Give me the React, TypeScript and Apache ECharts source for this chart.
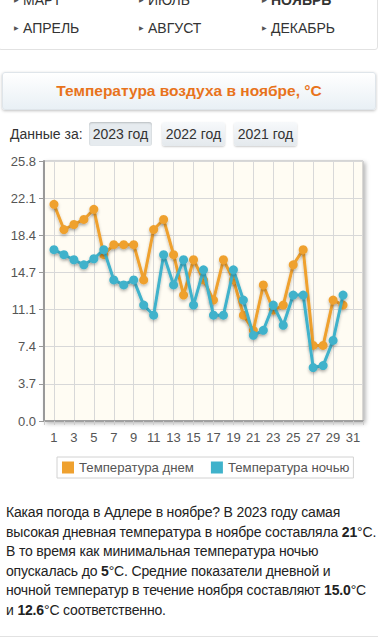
import React, { useEffect, useRef } from "react";
import * as echarts from "echarts";

const dayCategories = ["0","1","2","3","4","5","6","7","8","9","10","11","12","13","14","15","16","17","18","19","20","21","22","23","24","25","26","27","28","29","30","31","32"];
const days = [1,2,3,4,5,6,7,8,9,10,11,12,13,14,15,16,17,18,19,20,21,22,23,24,25,26,27,28,29,30];
const dayTemps = [21.5,19.0,19.5,20.0,21.0,16.5,17.5,17.5,17.5,14.0,19.0,20.0,16.5,12.5,16.0,14.0,12.0,16.0,14.0,10.5,9.0,13.5,11.0,11.5,15.5,17.0,7.5,7.5,12.0,11.5];
const nightTemps = [17.0,16.5,16.0,15.5,16.1,17.0,14.0,13.5,14.0,11.5,10.5,16.5,13.5,16.0,11.5,15.0,10.5,10.5,15.0,12.0,8.5,9.0,11.5,9.5,12.5,12.5,5.3,5.5,8.0,12.5];
const yMax = 25.8;
const ySteps = 7;
const seriesNames = ["Температура днем", "Температура ночью"];
const menuRow1 = ["МАРТ", "ИЮЛЬ", "НОЯБРЬ"];
const menuRow2 = ["АПРЕЛЬ", "АВГУСТ", "ДЕКАБРЬ"];
const years = ["2023 год", "2022 год", "2021 год"];

const ORANGE = "#efa12f";
const BLUE = "#3fb2cb";
const FONT = "'Liberation Sans', Arial, sans-serif";

function Chart() {
  const ref = useRef<HTMLDivElement>(null);
  useEffect(() => {
    if (!ref.current) return;
    const chart = echarts.init(ref.current, undefined, { renderer: "svg" });
    const interval = yMax / ySteps;
    const odd = (i: number) => i % 2 === 1;
    const lineShadow = { shadowColor: "rgba(0,0,0,0.25)", shadowBlur: 3, shadowOffsetY: 2 };
    chart.setOption({
      animation: false,
      textStyle: { fontFamily: FONT },
      grid: {
        left: 44, top: 11, width: 319, height: 260,
        show: true, backgroundColor: "#fffcf3", borderColor: "#b5b5b5", borderWidth: 1,
        shadowColor: "rgba(0,0,0,0.3)", shadowBlur: 4, shadowOffsetX: 2, shadowOffsetY: 2,
      },
      legend: {
        left: 57, top: 307,
        data: seriesNames,
        icon: "rect", itemWidth: 12, itemHeight: 12, itemGap: 17,
        padding: [4, 4, 4, 5],
        borderColor: "#d2d2d2", borderWidth: 1, backgroundColor: "#fff",
        textStyle: { fontSize: 13.2, color: "#555", fontFamily: FONT },
      },
      xAxis: {
        type: "category",
        data: dayCategories,
        boundaryGap: false,
        axisLine: { lineStyle: { color: "#a0a0a0", width: 2 } },
        axisTick: { show: true, interval: 0, length: 4, lineStyle: { color: "#ccc" } },
        axisLabel: { interval: (i: number) => odd(i), color: "#555", fontSize: 13, margin: 10, fontFamily: FONT },
        splitLine: { show: true, interval: (i: number) => odd(i), lineStyle: { color: "#d8d8d8", width: 1 } },
      },
      yAxis: {
        type: "value",
        min: 0,
        max: interval * ySteps,
        interval,
        axisLine: { show: true, lineStyle: { color: "#999", width: 2 } },
        axisTick: { show: true, length: 5, lineStyle: { color: "#999" } },
        axisLabel: { formatter: (v: number) => v.toFixed(1), color: "#555", fontSize: 13, margin: 8, fontFamily: FONT },
        splitLine: { show: true, lineStyle: { color: "#d8d8d8", width: 1 } },
      },
      series: [
        {
          name: seriesNames[0], type: "line",
          data: days.map((d, i) => [String(d), dayTemps[i]]),
          symbol: "circle", symbolSize: 9, showAllSymbol: true,
          itemStyle: { color: ORANGE, ...lineShadow },
          lineStyle: { color: ORANGE, width: 3, ...lineShadow },
          z: 2,
        },
        {
          name: seriesNames[1], type: "line",
          data: days.map((d, i) => [String(d), nightTemps[i]]),
          symbol: "circle", symbolSize: 9, showAllSymbol: true,
          itemStyle: { color: BLUE, ...lineShadow },
          lineStyle: { color: BLUE, width: 3, ...lineShadow },
          z: 3,
        },
      ],
    });
    return () => chart.dispose();
  }, []);
  return <div ref={ref} style={{ position: "absolute", left: 0, top: 150, width: 378, height: 340 }} />;
}

function MenuRow({ items, top, boldIndex }: { items: string[]; top: number; boldIndex: number }) {
  const xs = [14, 139, 262];
  return (
    <>
      {items.map((t, i) => (
        <div key={t} style={{ position: "absolute", left: xs[i], top, height: 20, lineHeight: "20px", fontSize: 14, color: "#333", fontWeight: i === boldIndex ? "bold" : "normal", whiteSpace: "nowrap" }}>
          <span style={{ position: "absolute", left: 0, top: 0, fontSize: 6, color: "#555", lineHeight: "20px" }}>▶</span>
          <span style={{ position: "absolute", left: 9, top: 0 }}>{t}</span>
        </div>
      ))}
    </>
  );
}

const paragraph: React.ReactNode[] = [
  <>Какая погода в Адлере в ноябре? В 2023 году самая</>,
  <>высокая дневная температура в ноябре составляла <b>21</b>°C.</>,
  <>В то время как минимальная температура ночью</>,
  <>опускалась до <b>5</b>°C. Средние показатели дневной и</>,
  <>ночной температур в течение ноября составляют <b>15.0</b>°C</>,
  <>и <b>12.6</b>°C соответственно.</>,
];

export default function App() {
  useEffect(() => {
    document.body.style.margin = "0";
  }, []);
  return (
    <div style={{ position: "absolute", left: 0, top: 0, width: 378, height: 640, overflow: "hidden", background: "#fff", fontFamily: FONT }}>
      <div style={{ position: "absolute", left: -2, top: -20, width: 378, height: 68, background: "#fff", border: "1px solid #e2e2e2", borderRadius: 3 }} />
      <MenuRow items={menuRow1} top={-10} boldIndex={2} />
      <MenuRow items={menuRow2} top={18} boldIndex={-1} />

      <div style={{ position: "absolute", left: 2, top: 72, width: 372, height: 36, borderRadius: 3, border: "1px solid #dfe5ea", background: "linear-gradient(#ffffff, #e9f0f5)", boxShadow: "0 1px 3px rgba(0,0,0,0.25)", textAlign: "center", lineHeight: "36px", fontSize: 15.5, fontWeight: "bold", color: "#e8731c" }}>
        Температура воздуха в ноябре, °C
      </div>

      <div style={{ position: "absolute", left: 10, top: 124, fontSize: 14, color: "#333", lineHeight: "20px" }}>Данные за:</div>
      {years.map((y, i) => {
        const lefts = [89, 162, 234];
        const selected = i === 0;
        return (
          <div key={y} style={{ position: "absolute", left: lefts[i], top: 122, width: 63, height: 24, lineHeight: "24px", textAlign: "center", fontSize: 14, color: "#333", borderRadius: 3, background: selected ? "#e6ebef" : "linear-gradient(#f7f9fb, #e4e9ed)", boxShadow: selected ? "inset 0 1px 2px rgba(0,0,0,0.2)" : "0 1px 2px rgba(0,0,0,0.2)" }}>
            {y}
          </div>
        );
      })}

      <Chart />

      <div style={{ position: "absolute", left: 6, top: 503, width: 372, fontSize: 14, lineHeight: "19.5px", color: "#222", letterSpacing: "-0.17px" }}>
        {paragraph.map((line, i) => (
          <div key={i} style={{ whiteSpace: "nowrap", height: 19.5 }}>{line}</div>
        ))}
      </div>
      <div style={{ position: "absolute", left: 0, top: 636, width: 378, height: 1, background: "#e2e2e2" }} />
    </div>
  );
}
